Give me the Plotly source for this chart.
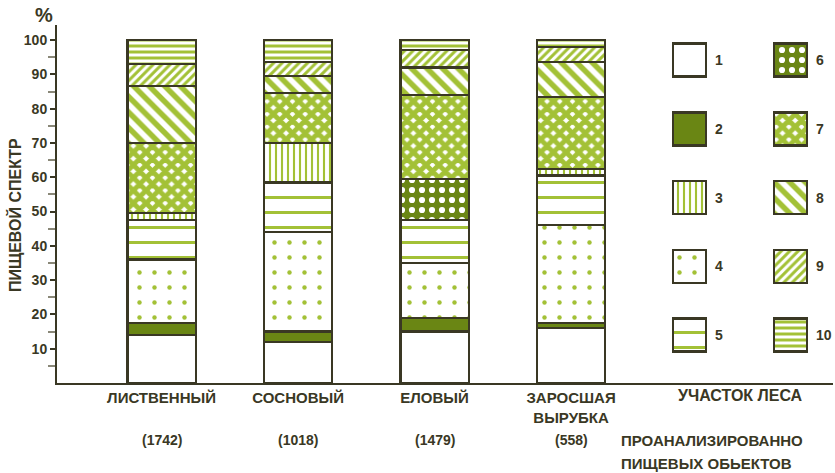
import plotly.graph_objects as go

# forest plots and number of analysed food objects
sites = ["ЛИСТВЕННЫЙ", "СОСНОВЫЙ", "ЕЛОВЫЙ", "ЗАРОСШАЯ<br>ВЫРУБКА"]
counts = ["(1742)", "(1018)", "(1479)", "(558)"]

# share of each food group, %, per site (stack order bottom -> top)
group_1 = [14, 12, 15, 16]
group_2 = [3.5, 3, 4, 1.5]
group_4 = [18.5, 29, 16, 28.5]
group_5 = [11.5, 14.5, 12.5, 14.5]
group_6 = [0, 0, 12, 0]
group_3 = [2, 11.5, 0, 2]
group_7 = [20.5, 14.5, 24.5, 21]
group_8 = [16.5, 5, 8, 10]
group_9 = [6.5, 4, 5, 4.5]
group_10 = [7, 6.5, 3, 2]

y_ticks = [10, 20, 30, 40, 50, 60, 70, 80, 90, 100]

INK = "#3a3824"
GREEN = "#a3c136"
DARK = "#6a8614"
FONT = "Liberation Sans"


def pat(shape, size, solidity, fg=GREEN, bg="white"):
    return dict(shape=shape, fgcolor=fg, bgcolor=bg, size=size, solidity=solidity, fgopacity=1)


# pattern style for each group
styles = {
    "1": dict(color="white", pattern=dict(shape="")),
    "2": dict(color=DARK, pattern=dict(shape="")),
    "3": dict(color="white", pattern=pat("|", 6, 0.35)),
    "4": dict(color="white", pattern=pat(".", 15, 0.07)),
    "5": dict(color="white", pattern=pat("-", 15, 0.2)),
    "6": dict(color=DARK, pattern=pat(".", 10, 0.3, fg="white", bg=DARK)),
    "7": dict(color="white", pattern=pat("x", 9, 0.8)),
    "8": dict(color="white", pattern=pat("\\", 11, 0.5)),
    "9": dict(color="white", pattern=pat("/", 6, 0.5)),
    "10": dict(color="white", pattern=pat("-", 6, 0.5)),
}

stack = [("1", group_1), ("2", group_2), ("4", group_4), ("5", group_5), ("6", group_6),
         ("3", group_3), ("7", group_7), ("8", group_8), ("9", group_9), ("10", group_10)]

fig = go.Figure()
xs = list(range(len(sites)))
for name, vals in stack:
    st = styles[name]
    fig.add_trace(go.Bar(
        x=xs, y=vals, name=name, width=0.5, showlegend=False,
        marker=dict(color=st["color"], pattern=st["pattern"], line=dict(color=INK, width=2.2)),
    ))

# legend drawn as swatch bars on a hidden pixel-like axis pair
legend_names = [str(i) for i in range(1, 11)]
box = 33
for i, name in enumerate(legend_names):
    col, row = divmod(i, 5)
    cx = 632.5 + col * 101
    cy = 35 + row * 68.75
    st = styles[name]
    fig.add_trace(go.Bar(
        x=[cx], y=[box], base=[cy - box / 2], width=box, xaxis="x2", yaxis="y2", showlegend=False,
        marker=dict(color=st["color"], pattern=st["pattern"], line=dict(color=INK, width=2.5)),
    ))
    fig.add_annotation(x=cx + box / 2 + 7, y=cy, xref="x2", yref="y2", text=name, showarrow=False,
                       xanchor="left", yanchor="middle", font=dict(size=14, color=INK, family=FONT, weight="bold"))

bold = dict(color=INK, family=FONT, weight="bold")
for x, c in zip(xs, counts):
    fig.add_annotation(x=x, y=-0.159, xref="x", yref="paper", text=c, showarrow=False,
                       yanchor="middle", font=dict(size=14, **bold))

fig.add_annotation(x=4.24, y=-0.036, xref="x", yref="paper", text="УЧАСТОК ЛЕСА", showarrow=False,
                   yanchor="middle", font=dict(size=16, **bold))
fig.add_annotation(x=3.35, y=-0.162, xref="x", yref="paper", text="ПРОАНАЛИЗИРОВАННО", showarrow=False,
                   xanchor="left", yanchor="middle", font=dict(size=15, **bold))
fig.add_annotation(x=3.35, y=-0.2235, xref="x", yref="paper", text="ПИЩЕВЫХ ОБЬЕКТОВ", showarrow=False,
                   xanchor="left", yanchor="middle", font=dict(size=15, **bold))
fig.add_annotation(x=-0.0541, y=0.469, xref="paper", yref="paper", text="ПИЩЕВОЙ СПЕКТР", textangle=-90,
                   xanchor="center", yanchor="middle", showarrow=False, font=dict(size=16, **bold))
fig.add_annotation(x=-0.0168, y=1.028, xref="paper", yref="paper", text="%", showarrow=False,
                   xanchor="center", yanchor="middle", font=dict(size=20, **bold))

fig.update_layout(
    width=835, height=473,
    margin=dict(l=57, r=2, t=25, b=90),
    paper_bgcolor="white", plot_bgcolor="white",
    barmode="stack",
    font=dict(family=FONT, color=INK),
    xaxis=dict(range=[-0.766, 4.919], showline=True, linewidth=2, linecolor=INK,
               tickvals=xs, ticktext=sites, ticks="", showgrid=False, zeroline=False,
               tickfont=dict(size=15, **bold)),
    yaxis=dict(range=[0, 104.4], showline=True, linewidth=2, linecolor=INK,
               tickvals=y_ticks, ticks="outside", ticklen=5, tickwidth=1.5, tickcolor=INK,
               showgrid=False, zeroline=False,
               minor=dict(tickvals=[v - 5 for v in y_ticks], ticks="outside", ticklen=7, tickcolor="#8a8878", tickwidth=1.5),
               tickfont=dict(size=14, **bold)),
    xaxis2=dict(overlaying="x", anchor="y2", range=[0, 776], visible=False),
    yaxis2=dict(overlaying="y", anchor="x2", range=[358, 0], visible=False),
)

# drop the default 8px page margin so the figure fills the window exactly
fig.write_html("out.html", config={"displayModeBar": False},
               post_script="document.body.style.margin = '0px';")
